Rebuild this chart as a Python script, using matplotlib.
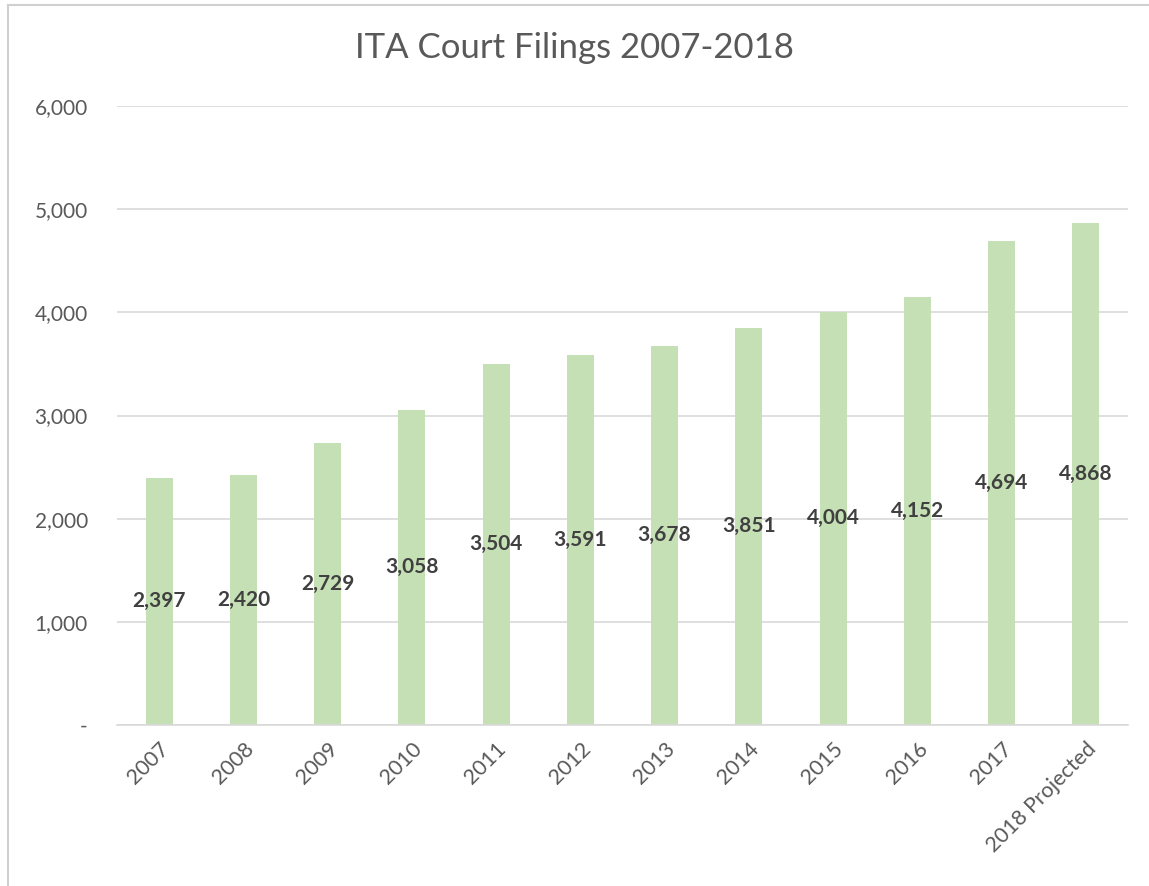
import matplotlib.pyplot as plt
from matplotlib.lines import Line2D
from matplotlib.ticker import FuncFormatter

plt.rcParams['font.family'] = ['Lato', 'DejaVu Sans']

years = ['2007', '2008', '2009', '2010', '2011', '2012', '2013', '2014',
         '2015', '2016', '2017', '2018 Projected']
filings = [2397, 2420, 2729, 3058, 3504, 3591, 3678, 3851, 4004, 4152, 4694, 4868]

bar_color = '#c5e0b4'
grid_color = '#d9d9d9'

fig = plt.figure(figsize=(11.49, 8.86), dpi=100)
ax = fig.add_axes([117 / 1149, 1 - 725 / 886, (1128 - 117) / 1149, (725 - 106) / 886])

x = range(len(years))
bars = ax.bar(x, filings, width=0.32, color=bar_color, zorder=2)

# value labels sit in the middle of each bar
for i, v in enumerate(filings):
    ax.text(i, v / 2, f'{v:,}', ha='center', va='center', fontsize=15,
            color='#404040', fontweight='bold', zorder=3)

ax.set_xlim(-0.5, len(years) - 0.5)
ax.set_ylim(0, 6000)
ax.set_yticks(range(0, 6001, 1000))
ax.yaxis.set_major_formatter(FuncFormatter(lambda v, p: '-' if v == 0 else f'{int(v):,}'))
ax.set_xticks(list(x))
ax.set_xticklabels(years, rotation=45, ha='right', rotation_mode='anchor')
ax.tick_params(axis='both', length=0, colors='#595959')
ax.tick_params(axis='y', pad=21, labelsize=15)
ax.tick_params(axis='x', pad=10, labelsize=15.5)
for lbl in ax.get_yticklabels():
    lbl.set_horizontalalignment('right')

ax.grid(axis='y', color=grid_color, linewidth=1.2, zorder=0)
for s in ['top', 'right', 'left']:
    ax.spines[s].set_visible(False)
ax.spines['bottom'].set_color(grid_color)
ax.spines['bottom'].set_linewidth(1.2)

fig.text(0.5, 1 - 48 / 886, 'ITA Court Filings 2007-2018', ha='center', va='center',
         fontsize=25, color='#595959')

# chart frame (top and left edges)
fig.add_artist(Line2D([8 / 1149, 8 / 1149], [0, 1 - 5 / 886], color='#d0d0d0', linewidth=1.5))
fig.add_artist(Line2D([8 / 1149, 1], [1 - 5 / 886, 1 - 5 / 886], color='#d0d0d0', linewidth=1.5))

fig.savefig('out.png', dpi=100)
